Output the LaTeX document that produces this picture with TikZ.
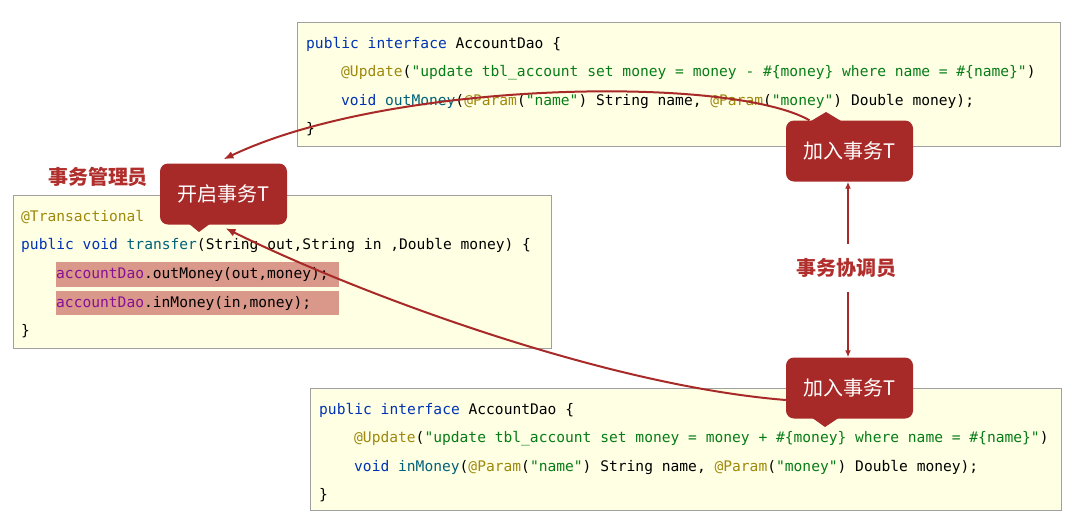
\documentclass[tikz,border=0pt]{standalone}
\usepackage{fontspec}
\setmonofont{DejaVu Sans Mono}
\newfontfamily\cjk{Noto Sans CJK SC}
\usetikzlibrary{arrows.meta}
\pgfdeclarelayer{front}
\pgfsetlayers{main,front}

\definecolor{tagred}{RGB}{168,42,40}
\definecolor{rolered}{RGB}{176,46,44}
\definecolor{codebg}{RGB}{255,255,228}
\definecolor{codegray}{RGB}{160,160,160}
\definecolor{marked}{RGB}{217,152,138}
\definecolor{kwblue}{RGB}{0,51,179}
\definecolor{fnteal}{RGB}{0,98,122}
\definecolor{anolive}{RGB}{158,136,13}
\definecolor{strgreen}{RGB}{6,125,23}
\definecolor{fldpurple}{RGB}{135,16,148}

\newcommand{\codekw}[1]{\textcolor{kwblue}{#1}}
\newcommand{\codefn}[1]{\textcolor{fnteal}{#1}}
\newcommand{\codean}[1]{\textcolor{anolive}{#1}}
\newcommand{\codestr}[1]{\textcolor{strgreen}{#1}}
\newcommand{\codefld}[1]{\textcolor{fldpurple}{#1}}

\begin{document}
\begin{tikzpicture}[x=1pt, y=-1pt,
    codebox/.style={draw=codegray, fill=codebg, line width=0.8pt},
    codeline/.style={anchor=base west, inner sep=0pt, font=\ttfamily\fontsize{14.6}{17}\selectfont},
    tagbox/.style={fill=tagred, rounded corners=8pt, minimum width=127pt, minimum height=61pt, text=white, font=\cjk\fontsize{20}{24}\selectfont},
    role/.style={text=rolered, font=\cjk\bfseries\fontsize{20}{24}\selectfont},
    flow/.style={draw=tagred, line width=2pt, -{Latex[length=10pt,width=8pt]}},
    link/.style={draw=tagred, line width=1.5pt, -{Latex[length=7pt,width=6pt]}}]
    \useasboundingbox (0,0) rectangle (1069,528);

    % code boxes
    \draw[codebox] (297,22) rectangle (1060,146);
    \draw[codebox] (13,195) rectangle (551,348);
    \draw[codebox] (310,388) rectangle (1061,510);
    \fill[marked] (56,262) rectangle (339,287);
    \fill[marked] (56,291) rectangle (339,315);

    % outMoney dao
    \node[codeline] (out1) at (306,48) {\codekw{public} \codekw{interface} AccountDao \{};
    \node[codeline] (out2) at (341,76) {\codean{@Update}(\codestr{"update tbl\_account set money = money - \#\{money\} where name = \#\{name\}"})};
    \node[codeline] (out3) at (341,105) {\codekw{void} \codefn{outMoney}(\codean{@Param}(\codestr{"name"}) String name, \codean{@Param}(\codestr{"money"}) Double money);};
    \node[codeline] (out4) at (306,133) {\}};

    % service
    \node[codeline] (tx1) at (21,221) {\codean{@Transactional}};
    \node[codeline] (tx2) at (21,249) {\codekw{public} \codekw{void} \codefn{transfer}(String out,String in ,Double money) \{};
    \node[codeline] (tx3) at (56,278) {\codefld{accountDao}.outMoney(out,money);};
    \node[codeline] (tx4) at (56,307) {\codefld{accountDao}.inMoney(in,money);};
    \node[codeline] (tx5) at (21,335) {\}};

    % inMoney dao
    \node[codeline] (in1) at (319,414) {\codekw{public} \codekw{interface} AccountDao \{};
    \node[codeline] (in2) at (354,442) {\codean{@Update}(\codestr{"update tbl\_account set money = money + \#\{money\} where name = \#\{name\}"})};
    \node[codeline] (in3) at (354,471) {\codekw{void} \codefn{inMoney}(\codean{@Param}(\codestr{"name"}) String name, \codean{@Param}(\codestr{"money"}) Double money);};
    \node[codeline] (in4) at (319,499) {\}};

    % tags, on top of the arrows
    \begin{pgfonlayer}{front}
    \node[tagbox] (open) at (223.5,194) {开启事务T};
    \node[tagbox] (joinOut) at (849.5,151) {加入事务T};
    \node[tagbox] (joinIn) at (849.5,388) {加入事务T};
    \fill[tagred] (188,223) -- (199,232) -- (211,223) -- cycle;
    \fill[tagred] (811,121) -- (826,112) -- (841,121) -- cycle;
    \fill[tagred] (811,417) -- (825,427) -- (840,417) -- cycle;
    \end{pgfonlayer}

    % curved arrows
    \draw[flow] ([xshift=-40pt]joinOut.north) .. controls (730,75) and (390,80) .. ([yshift=4pt]open.north);
    \draw[flow] ([yshift=-12pt]joinIn.west) .. controls (600,385) and (350,290) .. ([xshift=2pt,yshift=-3.5pt]open.south);

    % roles
    \node[role] (manager) at (98,177) {事务管理员};
    \node[role, inner ysep=14pt] (coordinator) at (846,268) {事务协调员};
    \draw[link] ([xshift=2pt]coordinator.north) -- ([xshift=2pt]coordinator.north |- joinOut.south);
    \draw[link] ([xshift=2pt]coordinator.south) -- ([xshift=2pt]coordinator.south |- joinIn.north);
\end{tikzpicture}
\end{document}
